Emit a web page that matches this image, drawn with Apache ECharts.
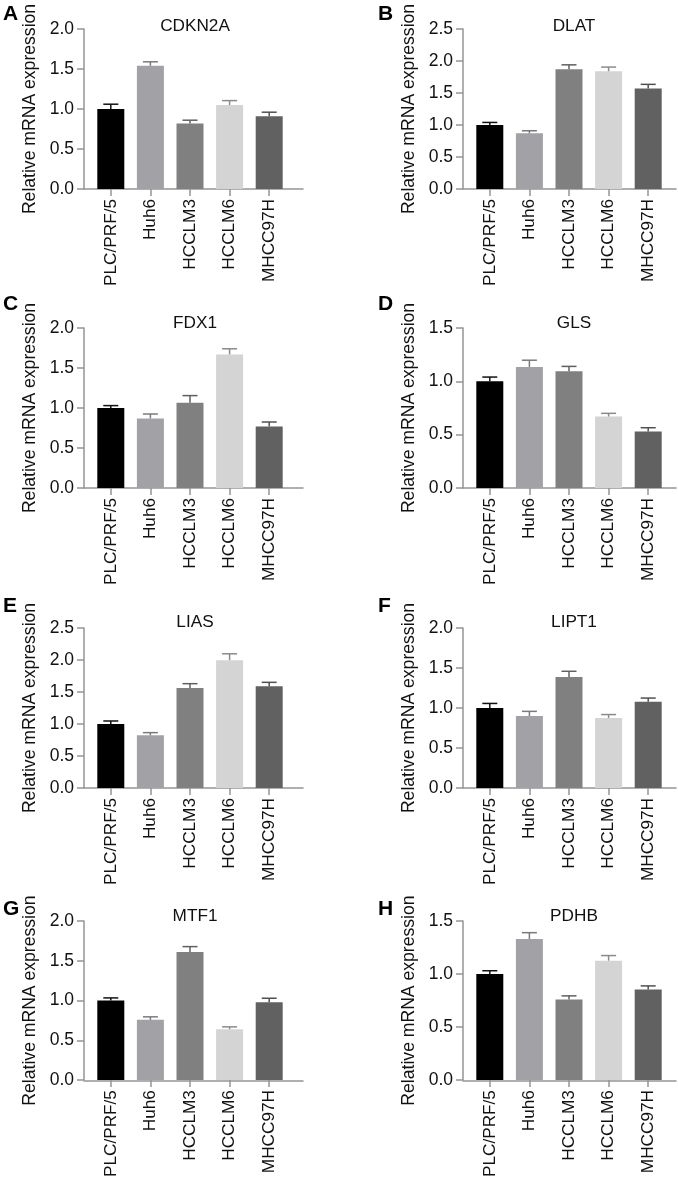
<!DOCTYPE html>
<html>
<head>
<meta charset="utf-8">
<script src="https://cdn.jsdelivr.net/npm/echarts@6/dist/echarts.min.js"></script>
<style>
html,body{margin:0;padding:0;background:#fff;}
#chart{width:678px;height:1180px;}
</style>
</head>
<body>
<div id="chart"></div>
<script>
const categories = ['PLC/PRF/5', 'Huh6', 'HCCLM3', 'HCCLM6', 'MHCC97H'];
const genes = ['CDKN2A', 'DLAT', 'FDX1', 'GLS', 'LIAS', 'LIPT1', 'MTF1', 'PDHB'];
const panelLetters = ['A', 'B', 'C', 'D', 'E', 'F', 'G', 'H'];
const yMax = [2.0, 2.5, 2.0, 1.5, 2.5, 2.0, 2.0, 1.5];
const yTickLabels = ['0.0', '0.5', '1.0', '1.5', '2.0', '2.5'];
const yAxisTitle = 'Relative mRNA expression';

const cdkn2a = [1.00, 1.54, 0.82, 1.05, 0.91];
const cdkn2aErr = [0.06, 0.05, 0.04, 0.055, 0.05];
const dlat = [1.00, 0.87, 1.87, 1.84, 1.57];
const dlatErr = [0.04, 0.04, 0.07, 0.065, 0.065];
const fdx1 = [1.00, 0.87, 1.065, 1.67, 0.77];
const fdx1Err = [0.03, 0.055, 0.09, 0.07, 0.055];
const gls = [1.00, 1.135, 1.095, 0.67, 0.53];
const glsErr = [0.04, 0.063, 0.045, 0.03, 0.035];
const lias = [1.00, 0.823, 1.562, 1.997, 1.588];
const liasErr = [0.047, 0.042, 0.068, 0.10, 0.063];
const lipt1 = [1.00, 0.90, 1.388, 0.876, 1.078];
const lipt1Err = [0.057, 0.058, 0.071, 0.042, 0.046];
const mtf1 = [1.00, 0.757, 1.611, 0.64, 0.979];
const mtf1Err = [0.033, 0.038, 0.067, 0.029, 0.05];
const pdhb = [1.00, 1.33, 0.759, 1.126, 0.853];
const pdhbErr = [0.031, 0.06, 0.035, 0.048, 0.035];

const values = [cdkn2a, dlat, fdx1, gls, lias, lipt1, mtf1, pdhb];
const errors = [cdkn2aErr, dlatErr, fdx1Err, glsErr, liasErr, lipt1Err, mtf1Err, pdhbErr];

const barColors = ['#000000', '#a2a2a6', '#808080', '#d4d4d4', '#616161'];
const errColors = ['#111111', '#7a7a7e', '#606060', '#8a8a8a', '#505050'];

const FONT = '"Liberation Sans", Arial, Helvetica, sans-serif';
const axisColor = '#959595';
const textColor = '#111111';

const colLeft = [91, 470];      // category grid left
const colAxisX = [84, 463];     // y-axis line x
const colAxisEnd = [303, 676];  // x-axis line end
const rowTop = [29, 328, 628, 921];
const gridH = 160;
const gridW = 198;
const titleTop = [13, 310, 609, 903];
const letterTop = [4, 294, 596, 899];
const letterLeft = [3, 378];

const grid = [], xAxis = [], yAxis = [], series = [], title = [], graphic = [];

for (let p = 0; p < 8; p++) {
  const col = p % 2, row = Math.floor(p / 2);
  const top = rowTop[row];
  grid.push({ left: colLeft[col], top: top, width: gridW, height: gridH });
  grid.push({ left: colAxisX[col], top: top, width: colAxisEnd[col] - colAxisX[col], height: gridH });
  const gMain = 2 * p, gLine = 2 * p + 1;

  xAxis.push({
    type: 'category', gridIndex: gMain, data: categories,
    axisLine: { show: false },
    axisTick: { show: true, alignWithLabel: true, length: 7, lineStyle: { color: axisColor, width: 1.5 } },
    axisLabel: { rotate: 90, interval: 0, margin: 10, fontSize: 17.2, color: textColor, fontFamily: FONT },
    splitLine: { show: false }
  });
  yAxis.push({
    type: 'value', gridIndex: gMain, min: 0, max: yMax[p], interval: 0.5, offset: 7,
    name: yAxisTitle, nameLocation: 'middle', nameGap: 45,
    nameTextStyle: { fontSize: 17.6, color: textColor, fontFamily: FONT },
    axisLine: { show: true, lineStyle: { color: axisColor, width: 1.5 } },
    axisTick: { show: true, length: 7, lineStyle: { color: axisColor, width: 1.5 } },
    axisLabel: { margin: 10, fontSize: 17.5, color: textColor, fontFamily: FONT,
      formatter: v => yTickLabels[Math.round(v / 0.5)] },
    splitLine: { show: false }
  });
  xAxis.push({
    type: 'value', gridIndex: gLine, min: 0, max: 1, position: 'bottom',
    axisLine: { show: true, onZero: false, lineStyle: { color: axisColor, width: 1.5 } },
    axisTick: { show: false }, axisLabel: { show: false }, splitLine: { show: false }
  });
  yAxis.push({ type: 'value', gridIndex: gLine, min: 0, max: 1, show: false, splitLine: { show: false } });

  const vals = values[p], errs = errors[p];
  series.push({
    type: 'bar', xAxisIndex: gMain, yAxisIndex: gMain,
    barWidth: 27, silent: true, animation: false,
    data: vals.map((v, i) => ({ value: v, itemStyle: { color: barColors[i] } }))
  });
  series.push({
    type: 'custom', xAxisIndex: gMain, yAxisIndex: gMain, silent: true, animation: false, z: 3,
    data: vals.map((v, i) => [i, v, errs[i]]),
    renderItem: function (params, api) {
      const i = api.value(0);
      const base = api.coord([i, api.value(1)]);
      const tip = api.coord([i, api.value(1) + api.value(2)]);
      const c = errColors[i];
      const hw = 7.5;
      return {
        type: 'group',
        children: [
          { type: 'line', shape: { x1: base[0], y1: base[1], x2: tip[0], y2: tip[1] }, style: { stroke: c, lineWidth: 1.5 } },
          { type: 'line', shape: { x1: tip[0] - hw, y1: tip[1], x2: tip[0] + hw, y2: tip[1] }, style: { stroke: c, lineWidth: 1.5 } }
        ]
      };
    }
  });

  title.push({
    text: genes[p], left: colLeft[col] + gridW / 2, top: titleTop[row], textAlign: 'center',
    textStyle: { fontSize: 17.2, fontWeight: 'normal', color: textColor, fontFamily: FONT }
  });
  graphic.push({
    type: 'text', left: letterLeft[col], top: letterTop[row],
    style: { text: panelLetters[p], font: 'bold 21px ' + FONT, fill: '#000' }
  });
}

const chart = echarts.init(document.getElementById('chart'), null, { renderer: 'canvas' });
chart.setOption({
  backgroundColor: '#ffffff',
  animation: false,
  title: title,
  grid: grid,
  xAxis: xAxis,
  yAxis: yAxis,
  series: series,
  graphic: graphic
});
</script>
</body>
</html>
